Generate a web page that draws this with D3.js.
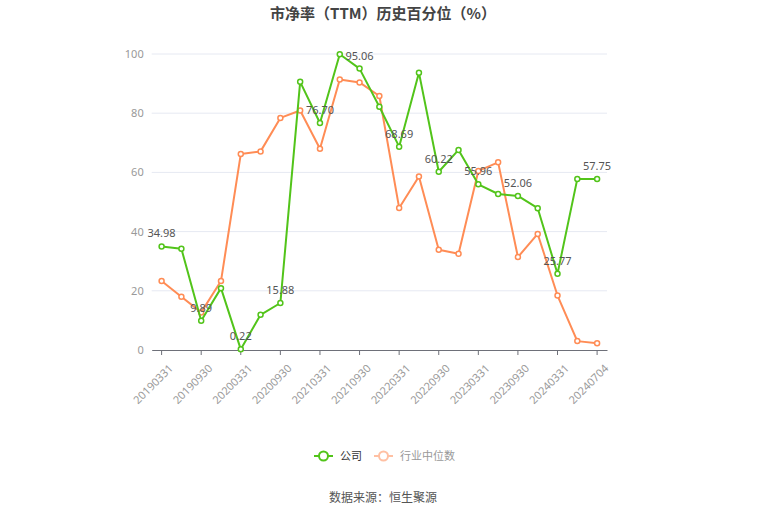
<!DOCTYPE html>
<html><head><meta charset="utf-8">
<script src="https://cdn.jsdelivr.net/npm/d3@7"></script>
<style>
body{margin:0;background:#fff;font-family:"Noto Sans CJK SC","Noto Sans",sans-serif;}
</style></head>
<body><svg id="c" width="765" height="517"></svg>
<script>
const categories = ["20190331","20190630","20190930","20191231","20200331","20200630","20200930","20201231","20210331","20210630","20210930","20211231","20220331","20220630","20220930","20221231","20230331","20230630","20230930","20231231","20240331","20240630","20240704"];
const company = [34.98,34.2,9.89,20.9,0.22,11.9,15.88,90.6,76.70,99.9,95.06,82.2,68.69,93.7,60.22,67.6,55.96,52.7,52.06,47.9,25.77,57.8,57.75];
const industry = [23.3,18.0,12.7,23.3,66.2,67.1,78.4,80.9,68.0,91.4,90.4,85.8,48.0,58.6,33.9,32.5,60.5,63.4,31.4,39.2,18.4,3.0,2.3];
const yTicks = [0,20,40,60,80,100];
const seriesNames = ["公司","行业中位数"];
const colors = ["#52c41a","#ff8c55"];
const legendIconColors = ["#52c41a","#ffc0a3"];

(function(){
const svg = d3.select("#c");
const pL = 151.7, pR = 607, pT = 54, pB = 350;
const x = d3.scaleBand().domain(categories).range([pL, pR]);
const cx = d => x(d) + x.bandwidth()/2;
const y = d3.scaleLinear().domain([0,100]).range([pB, pT]);

// title
svg.append("text").attr("x",383).attr("y",19).attr("text-anchor","middle")
  .attr("font-size",15).attr("font-weight","bold").attr("fill","#444").text("市净率（TTM）历史百分位（%）");

// grid
svg.append("g").selectAll("line").data(yTicks.filter(v=>v>0)).join("line")
  .attr("x1",pL).attr("x2",pR).attr("y1",d=>y(d)).attr("y2",d=>y(d))
  .attr("stroke","#e6e9f2").attr("stroke-width",1);

// y axis
const yAxis = d3.axisLeft(y).tickValues(yTicks).tickSize(0).tickPadding(8);
const gy = svg.append("g").attr("transform",`translate(${pL},0)`).call(yAxis);
gy.select(".domain").remove();
gy.selectAll("text").attr("fill","#999").attr("font-size",11).attr("font-family","'Noto Sans','Noto Sans CJK SC',sans-serif");

// x axis
const xTickVals = categories.filter((d,i)=>i%2===0);
const xAxis = d3.axisBottom(x).tickValues(xTickVals).tickSize(5).tickSizeOuter(0).tickPadding(4);
const gx = svg.append("g").attr("transform",`translate(0,${pB})`).call(xAxis);
gx.select(".domain").attr("stroke","#6e7079");
gx.selectAll(".tick line").attr("stroke","#6e7079");
gx.selectAll(".tick").attr("transform",d=>`translate(${cx(d)},0)`);
gx.selectAll("text").attr("fill","#999").attr("font-size",11)
  .attr("font-family","'Noto Sans','Noto Sans CJK SC',sans-serif")
  .attr("text-anchor","end").attr("dy","0.35em")
  .attr("transform","translate(3,10) rotate(-45)");

// lines
const data = [company, industry];
const line = d3.line().x((d,i)=>cx(categories[i])).y(d=>y(d));
[1,0].forEach(s=>{
  const g = svg.append("g");
  g.append("path").datum(data[s]).attr("d",line).attr("fill","none")
    .attr("stroke",colors[s]).attr("stroke-width",2).attr("stroke-linejoin","round");
  g.selectAll("circle").data(data[s]).join("circle")
    .attr("cx",(d,i)=>cx(categories[i])).attr("cy",d=>y(d)).attr("r",2.5)
    .attr("fill","#fff").attr("stroke",colors[s]).attr("stroke-width",1.5);
});

// labels for company every 2nd point
svg.append("g").selectAll("text").data(company.map((v,i)=>({v,i})).filter(d=>d.i%2===0)).join("text")
  .attr("x",d=>cx(categories[d.i])).attr("y",d=>y(d.v)-9)
  .attr("text-anchor","middle").attr("font-size",11).attr("fill","#555")
  .attr("font-family","'Noto Sans','Noto Sans CJK SC',sans-serif")
  .text(d=>d.v.toFixed(2));

// legend
const leg = svg.append("g");
const legItems = [{x:314, tx:340},{x:374, tx:400}];
legItems.forEach((it,s)=>{
  leg.append("line").attr("x1",it.x).attr("x2",it.x+19).attr("y1",456).attr("y2",456)
    .attr("stroke",legendIconColors[s]).attr("stroke-width",2);
  leg.append("circle").attr("cx",it.x+9.5).attr("cy",456).attr("r",4.5)
    .attr("fill","#fff").attr("stroke",legendIconColors[s]).attr("stroke-width",2);
  leg.append("text").attr("x",it.tx).attr("y",460).attr("font-size",11)
    .attr("fill",s===0?"#333":"#999").text(seriesNames[s]);
});

// source
svg.append("text").attr("x",383).attr("y",502).attr("text-anchor","middle")
  .attr("font-size",12).attr("fill","#555").text("数据来源：恒生聚源");
})();
</script></body></html>
